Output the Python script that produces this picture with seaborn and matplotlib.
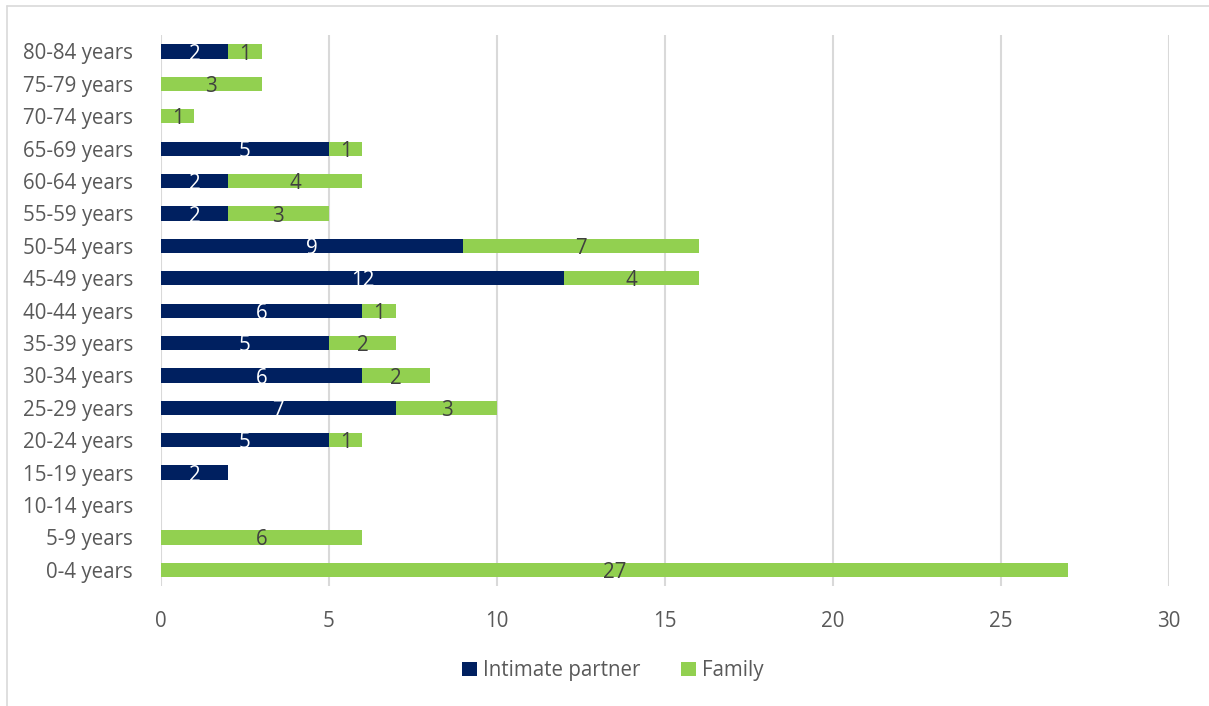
import matplotlib
matplotlib.use("Agg")
import matplotlib.pyplot as plt
import seaborn as sns
import pandas as pd
from matplotlib.lines import Line2D
from matplotlib.patches import Patch

categories = ["80-84 years", "75-79 years", "70-74 years", "65-69 years", "60-64 years",
              "55-59 years", "50-54 years", "45-49 years", "40-44 years", "35-39 years",
              "30-34 years", "25-29 years", "20-24 years", "15-19 years", "10-14 years",
              "5-9 years", "0-4 years"]
intimate_partner = [2, 0, 0, 5, 2, 2, 9, 12, 6, 5, 6, 7, 5, 2, 0, 0, 0]
family = [1, 3, 1, 1, 4, 3, 7, 4, 1, 2, 2, 3, 1, 0, 0, 6, 27]
x_ticks = [0, 5, 10, 15, 20, 25, 30]

NAVY = "#002060"
GREEN = "#92D050"
TEXT = "#595959"
FS = 14.8

sns.set_theme(style="white")
plt.rcParams["font.family"] = ["Open Sans", "DejaVu Sans"]

df = pd.DataFrame({"category": categories,
                   "ip": intimate_partner,
                   "family": family})
df["total"] = df["ip"] + df["family"]

fig = plt.figure(figsize=(12.09, 7.06), dpi=100)
ax = fig.add_axes([0.133, 0.170, 0.834, 0.780])

sns.barplot(data=df, y="category", x="total", order=categories, color=GREEN,
            width=0.44, ax=ax, saturation=1, orient="h", linewidth=0)
sns.barplot(data=df, y="category", x="ip", order=categories, color=NAVY,
            width=0.44, ax=ax, saturation=1, orient="h", linewidth=0)

for i, row in df.iterrows():
    if row["ip"] > 0:
        ax.text(row["ip"] / 2, i + 0.08, str(row["ip"]), ha="center", va="center",
                color="white", fontsize=FS)
    if row["family"] > 0:
        ax.text(row["ip"] + row["family"] / 2, i + 0.08, str(row["family"]),
                ha="center", va="center", color="#404040", fontsize=FS)

ax.set_xlim(0, 30)
ax.set_ylim(len(categories) - 0.5, -0.5)
ax.set_xticks(x_ticks)
ax.set_xticklabels([str(t) for t in x_ticks])
ax.set_xlabel("")
ax.set_ylabel("")
ax.tick_params(axis="both", length=0, labelsize=FS, labelcolor=TEXT)
ax.tick_params(axis="x", pad=18)
ax.tick_params(axis="y", pad=20)
ax.xaxis.grid(True, color="#D9D9D9", linewidth=1.5)
ax.set_axisbelow(True)
for s in ax.spines.values():
    s.set_visible(False)

handles = [Patch(facecolor=NAVY, edgecolor="none", label="Intimate partner"),
           Patch(facecolor=GREEN, edgecolor="none", label="Family")]
leg = fig.legend(handles=handles, loc="center", bbox_to_anchor=(0.507, 0.050), ncol=2,
                 frameon=False, fontsize=FS, handlelength=0.7, handleheight=0.7,
                 handletextpad=0.3, columnspacing=2.0)
for t in leg.get_texts():
    t.set_color(TEXT)

fig.add_artist(Line2D([7 / 1209, 7 / 1209], [0, 1 - 6 / 706], color="#D9D9D9", linewidth=1.2))
fig.add_artist(Line2D([7 / 1209, 1], [1 - 6 / 706, 1 - 6 / 706], color="#D9D9D9", linewidth=1.2))

fig.savefig("out.png", dpi=100)
